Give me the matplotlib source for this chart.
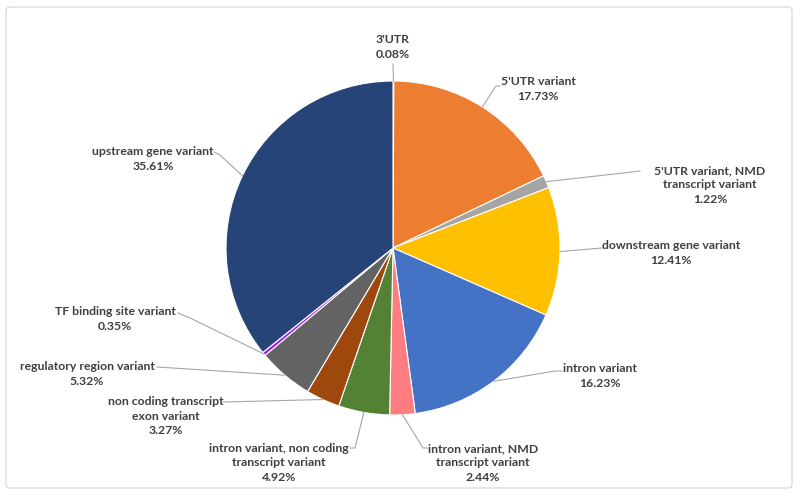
import numpy as np
import matplotlib
matplotlib.use("Agg")
import matplotlib.pyplot as plt
from matplotlib.patches import FancyBboxPatch

plt.rcParams['font.family'] = ['Lato', 'DejaVu Sans']

# data, clockwise from 12 o'clock
categories = [
    "3'UTR",
    "5'UTR variant",
    "5'UTR variant, NMD\ntranscript variant",
    "downstream gene variant",
    "intron variant",
    "intron variant, NMD\ntranscript variant",
    "intron variant, non coding\ntranscript variant",
    "non coding transcript\nexon variant",
    "regulatory region variant",
    "TF binding site variant",
    "upstream gene variant",
]
percent = [0.08, 17.73, 1.22, 12.41, 16.23, 2.44, 4.92, 3.27, 5.32, 0.35, 35.61]
colors = ["#FF0000", "#ED7D31", "#A5A5A5", "#FFC000", "#4472C4", "#FF7C80",
          "#548235", "#9E480E", "#636363", "#A020F0", "#264478"]

W, H = 800, 496

# label layout in pixel coords (top-left origin): text centre, leader points
label_xy = [(393, 47), (538, 89), (710, 185), (671, 253), (600, 376),
            (483, 463), (279, 463), (166, 416), (87, 374), (115, 319), (153, 159)]
leader_pts = [
    [(393, 64)],
    [(496, 86), (500, 86)],
    [(632, 172), (640, 171)],
    [(602, 248)],
    [(555, 371), (562, 371)],
    [(423, 448), (428, 448)],
    [(355, 448), (350, 448)],
    [(223, 402)],
    [(157, 367)],
    [(190, 318), (178, 313)],
    [(220, 155), (214, 152)],
]

fig = plt.figure(figsize=(W / 100, H / 100), dpi=100)
ax = fig.add_axes([0, 0, 1, 1])
ax.set_xlim(0, W)
ax.set_ylim(0, H)
ax.set_aspect('equal')
ax.axis('off')

# chart border
ax.add_patch(FancyBboxPatch((6, 8), 786, 481, boxstyle="round,pad=0,rounding_size=4",
                            fill=False, edgecolor="#D9D9D9", linewidth=0.9))

cx, cy, r = 393, H - 248, 167
wedges, _ = ax.pie(percent, colors=colors, startangle=90, counterclock=False,
                   center=(cx, cy), radius=r, normalize=True,
                   wedgeprops=dict(edgecolor="white", linewidth=0.8))
ax.set_xlim(0, W)
ax.set_ylim(0, H)

for w, name, val, (tx, ty), pts in zip(wedges, categories, percent, label_xy, leader_pts):
    mid = np.deg2rad((w.theta1 + w.theta2) / 2)
    start = (cx + r * np.cos(mid), cy + r * np.sin(mid))
    xs = [start[0]] + [p[0] for p in pts]
    ys = [start[1]] + [H - p[1] for p in pts]
    ax.plot(xs, ys, color="#A6A6A6", linewidth=0.8, zorder=1)
    ax.text(tx, H - ty, f"{name}\n{val:.2f}%", ha="center", va="center",
            multialignment="center", fontsize=8.8, fontweight="bold",
            color="#404040", linespacing=1.4)

fig.savefig("out.png", dpi=100)
